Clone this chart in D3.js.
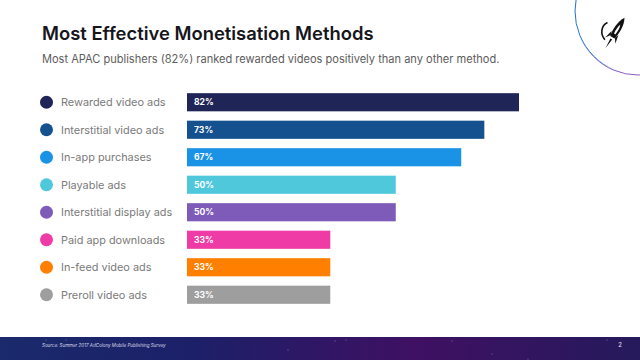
<!DOCTYPE html>
<html>
<head>
<meta charset="utf-8">
<script src="https://cdnjs.cloudflare.com/ajax/libs/d3/7.8.5/d3.min.js"></script>
<style>
html, body { margin: 0; padding: 0; background: #fff; }
svg { display: block; }
text { font-family: Inter, "Open Sans", sans-serif; }
</style>
</head>
<body>
<svg id="chart"></svg>
<script>
const categories = ['Rewarded video ads', 'Interstitial video ads', 'In-app purchases', 'Playable ads',
    'Interstitial display ads', 'Paid app downloads', 'In-feed video ads', 'Preroll video ads'];
const values = [82, 73, 67, 50, 50, 33, 33, 33];
const colors = ['#1f2557', '#15508f', '#1a93e6', '#4fc8dc', '#7e5bb8', '#ee3ba5', '#ff7f00', '#9e9e9e'];
const stars = [[46, 345], [66, 345], [288, 355], [335, 346], [346, 345], [452, 346], [492, 359], [528, 364], [607, 345], [627, 366]];

const width = 640, height = 360;
const svg = d3.select('#chart').attr('width', width).attr('height', height);
const defs = svg.append('defs');

// footer background
const foot = defs.append('linearGradient').attr('id', 'foot');
foot.append('stop').attr('offset', '0%').attr('stop-color', '#1a2a6c');
foot.append('stop').attr('offset', '30%').attr('stop-color', '#1c2068');
foot.append('stop').attr('offset', '65%').attr('stop-color', '#3f1063');
foot.append('stop').attr('offset', '100%').attr('stop-color', '#251a5c');

svg.append('rect').attr('x', 0).attr('y', 337).attr('width', width).attr('height', 23).attr('fill', 'url(#foot)');

svg.selectAll('circle.star').data(stars).enter().append('circle')
    .attr('class', 'star')
    .attr('cx', d => d[0])
    .attr('cy', d => d[1] - 5)
    .attr('r', 0.5)
    .attr('fill', '#8f8fc0');

svg.append('text').attr('x', 42).attr('y', 346.5)
    .attr('fill', '#d8d8e8').style('font-size', '4.5px').style('font-style', 'italic')
    .text('Source:  Summer 2017 AdColony Mobile Publishing Survey');
svg.append('text').attr('x', 620).attr('y', 346.5).attr('text-anchor', 'middle')
    .attr('fill', '#e8e8f0').style('font-size', '6px').text('2');

// logo ring: a blue arc fading out at the bottom, a purple one fading in
const ringBlue = defs.append('linearGradient').attr('id', 'ringBlue')
    .attr('gradientUnits', 'userSpaceOnUse')
    .attr('x1', 575).attr('y1', 20).attr('x2', 615).attr('y2', 75);
ringBlue.append('stop').attr('offset', '0%').attr('stop-color', '#1f6fd0');
ringBlue.append('stop').attr('offset', '55%').attr('stop-color', '#2a86d8');
ringBlue.append('stop').attr('offset', '100%').attr('stop-color', '#2a86d8').attr('stop-opacity', 0);

const ringPurple = defs.append('linearGradient').attr('id', 'ringPurple')
    .attr('gradientUnits', 'userSpaceOnUse')
    .attr('x1', 575).attr('y1', 30).attr('x2', 600).attr('y2', 65);
ringPurple.append('stop').attr('offset', '0%').attr('stop-color', '#8a5cc0').attr('stop-opacity', 0);
ringPurple.append('stop').attr('offset', '100%').attr('stop-color', '#8a5cc0');

svg.append('circle').attr('cx', 638).attr('cy', 12).attr('r', 63)
    .attr('fill', 'none').attr('stroke', 'url(#ringPurple)').attr('stroke-width', 1);
svg.append('circle').attr('cx', 638.5).attr('cy', 11).attr('r', 63.5)
    .attr('fill', 'none').attr('stroke', 'url(#ringBlue)').attr('stroke-width', 1);

const rocket = svg.append('g').attr('transform', 'translate(615,33) rotate(32)');
rocket.append('path').attr('d', 'M0,-18 C4,-11 4,-2 2.5,5 L-2.5,5 C-4,-2 -4,-11 0,-18Z').attr('fill', '#111');
rocket.append('path').attr('d', 'M0,-10 C1.5,-7 1.5,-3 1,1 L-0.5,1 C-1.2,-3 -1,-7 0,-10Z').attr('fill', '#fff');
rocket.append('path').attr('d', 'M-1,7 L1,7 L0,18Z M-2.5,4 L-6,9 L-4,0Z M2.5,4 L6,9 L4,0Z').attr('fill', '#111');
rocket.append('path').attr('d', 'M-12,-5 C-16,1 -12,9 -5,11').attr('fill', 'none').attr('stroke', '#111').attr('stroke-width', 1.6);

// headings
svg.append('text').attr('x', 42).attr('y', 39.5)
    .attr('fill', '#16161c').style('font-size', '18.4px').style('font-weight', 600)
    .text('Most Effective Monetisation Methods');
svg.append('text').attr('x', 42).attr('y', 62.5)
    .attr('fill', '#5c5c5c').style('font-size', '11.05px')
    .text('Most APAC publishers (82%) ranked rewarded videos positively than any other method.');

// the bars do not start at zero in the original: 33% is longer than half of 67%
const x = d3.scaleLinear().domain([-4.2, 82]).range([187, 519]);
const y = d3.scaleBand().domain(categories).range([88.5, 308.5]).paddingInner(0.34).paddingOuter(0.17);

const rows = svg.selectAll('g.row').data(categories).enter().append('g').attr('class', 'row');

rows.append('circle')
    .attr('cx', 46.5)
    .attr('cy', d => y(d) + y.bandwidth() / 2)
    .attr('r', 6.5)
    .attr('fill', (d, i) => colors[i]);

rows.append('text')
    .attr('x', 61)
    .attr('y', d => y(d) + y.bandwidth() / 2)
    .attr('dy', '0.35em')
    .attr('fill', '#7a7a7a')
    .style('font-size', '10.9px')
    .text(d => d);

rows.append('rect')
    .attr('x', x(-4.2))
    .attr('y', d => y(d))
    .attr('width', (d, i) => x(values[i]) - x(-4.2))
    .attr('height', y.bandwidth())
    .attr('fill', (d, i) => colors[i]);

rows.append('text')
    .attr('x', 194)
    .attr('y', d => y(d) + y.bandwidth() / 2)
    .attr('dy', '0.35em')
    .attr('fill', '#fff')
    .style('font-size', '8.6px')
    .style('font-weight', 700)
    .text((d, i) => values[i] + '%');
</script>
</body>
</html>
